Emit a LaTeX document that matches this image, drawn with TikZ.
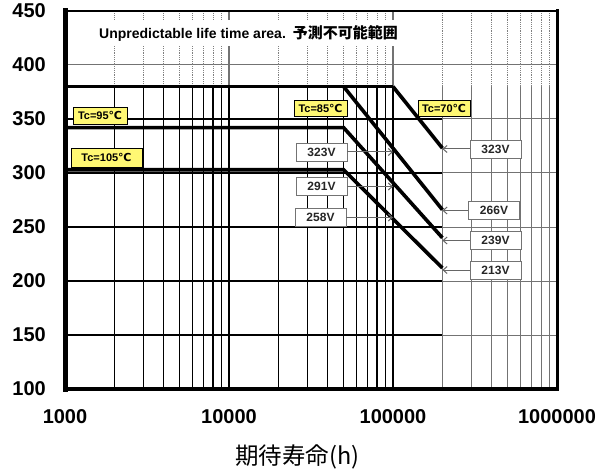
\documentclass[tikz,border=0pt]{standalone}
\usepackage{fontspec}
\setmainfont{Liberation Sans}
\newfontfamily\jpfont{Noto Sans CJK JP}
\newfontfamily\djvfont{DejaVu Sans}
\usetikzlibrary{arrows.meta,shadows}
\newcommand\degC{{\djvfont ℃}}
\begin{document}
\begin{tikzpicture}[x=1pt,y=1pt,
  gridgray/.style={draw=black!55,line width=1pt},
  griddash/.style={draw=black!50,line width=0.9pt,dash pattern=on 1.2pt off 1pt},
  gridblack/.style={draw=black,line width=1.3pt},
  decadeline/.style={draw=black,line width=2pt},
  series/.style={draw=black,line width=3.6pt,line join=miter},
  ylab/.style={anchor=east,font=\fontsize{20}{20}\selectfont\bfseries,inner sep=0pt},
  xlab/.style={anchor=center,font=\fontsize{20}{20}\selectfont\bfseries,inner sep=0pt},
  tclab/.style={draw=black,line width=0.9pt,fill=yellow!55,font=\fontsize{11}{11}\selectfont\bfseries,inner sep=0pt,
    drop shadow={shadow xshift=1pt,shadow yshift=-1pt,fill=black,opacity=1}},
  vlab/.style={draw=black!55,line width=0.9pt,fill=white,font=\fontsize{12}{12}\selectfont\bfseries,text=black!85,
    inner sep=0pt,minimum width=51pt,minimum height=18pt},
  callout/.style={draw=black!60,line width=1pt,-{Straight Barb[length=4pt,width=7pt,line width=1pt]}},
  titlebox/.style={fill=white,inner xsep=3pt,inner ysep=0pt,minimum height=26pt,font=\fontsize{14}{14}\selectfont\bfseries}
]
\useasboundingbox (0,0) rectangle (610,472);
\fill[white] (0,0) rectangle (610,472);
\begin{scope}[shift={(65,-25)},x=164pt,y=1.08pt]
  % gray grid everywhere
  \foreach \v in {150,200,...,400} \draw[gridgray] (0,\v) -- (3,\v);
  \foreach \d in {0,1,2} \foreach \m in {2,...,9} {
    \pgfmathsetmacro\u{\d+log10(\m)}
    \draw[gridgray] (\u,100) -- (\u,380);
    \draw[griddash] (\u,380) -- (\u,450);
  }
  \foreach \u in {1,2} \draw[draw=black!55,line width=1.8pt] (\u,380) -- (\u,450);
  % black grid in the predictable area
  \foreach \v in {150,200,...,350} \draw[gridblack] (0,\v) -- (2.30103,\v);
  \foreach \d in {0,1} \foreach \m in {2,...,9} {
    \pgfmathsetmacro\u{\d+log10(\m)}
    \draw[gridblack] (\u,100) -- (\u,380);
  }
  \draw[decadeline] (1,100) -- (1,380);
  \draw[decadeline] (2,100) -- (2,380);
  % title
  \node[titlebox,anchor=west] (title) at (0.189,429.6)
    {Unpredictable life time area.\hspace{7pt}{\jpfont\bfseries\fontsize{15}{15}\selectfont 予測不可能範囲}};
  % series
  \draw[series] (0,380) -- (2,380);
  \draw[series] (1.69897,380) -- (2.30103,266);
  \draw[series] (2,380) -- (2.30103,323);
  \draw[series] (0,342) -- (1.69897,342) -- (2.30103,240);
  \draw[series] (0,303) -- (1.69897,303) -- (2.30103,212);
  \coordinate (t100k) at (2,380);
  \coordinate (t200k) at (2.30103,380);
  % frame
  \draw[line width=2.5pt,line cap=rect] (0,450) -- (3,450);
  \draw[line width=3pt,line cap=rect] (3,450) -- (3,100);
  \draw[line width=4pt,line cap=rect] (0,100) -- (3,100);
  \draw[line width=5pt,line cap=rect] (0,100) -- (0,450);
  % axis labels
  \foreach \v in {100,150,...,450} \node[ylab,xshift=-19pt] (ylab\v) at (0,\v) {\v};
  \node[xlab,yshift=-28pt] (xl1) at (0,100) {1000};
  \node[xlab,yshift=-28pt] (xl2) at (1,100) {10000};
  \node[xlab,yshift=-28pt] (xl3) at (2,100) {100000};
  \node[xlab,yshift=-28pt] (xl4) at (3,100) {1000000};
\end{scope}
% temperature labels
\node[tclab,minimum width=54pt,minimum height=17pt] (tc95) at (100,356.5) {Tc=95\degC};
\node[tclab,minimum width=71pt,minimum height=19pt] (tc105) at (106.5,314.5) {Tc=105\degC};
\node[tclab,minimum width=53pt,minimum height=16pt] (tc85) at (320.5,364) {Tc=85\degC};
\node[tclab,minimum width=52pt,minimum height=16pt] (tc70) at (444,364) {Tc=70\degC};
% voltage labels
\node[vlab] (l323) at (321.5,320) {323V};
\node[vlab] (l291) at (321.5,285.5) {291V};
\node[vlab] (l258) at (320.5,254.5) {258V};
\node[vlab] (r323) at (495.5,323) {323V};
\node[vlab] (r266) at (494,261.5) {266V};
\node[vlab] (r239) at (495.5,231.5) {239V};
\node[vlab] (r213) at (495.5,202) {213V};
\draw[callout] (l323.east) -- (l323.east -| t100k);
\draw[callout] (l291.east) -- (l291.east -| t100k);
\draw[callout] (l258.east) -- (l258.east -| t100k);
\draw[callout] (r323.west) -- (r323.west -| t200k);
\draw[callout] (r266.west) -- (r266.west -| t200k);
\draw[callout] (r239.west) -- (r239.west -| t200k);
\draw[callout] (r213.west) -- (r213.west -| t200k);
% x axis title
\node[font=\jpfont\fontsize{23.5}{23.5}\selectfont,inner sep=0pt] (xtitle) at (297.5,15) {期待寿命(h)};
\end{tikzpicture}
\end{document}
